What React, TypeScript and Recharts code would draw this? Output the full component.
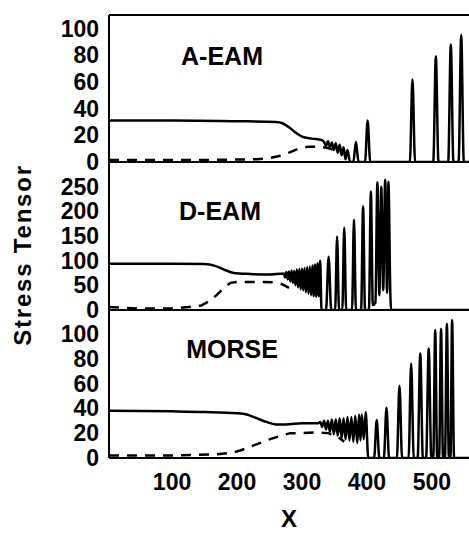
import { LineChart, Line, XAxis, YAxis, Label } from "recharts";

const FONT = '"Liberation Sans", Arial, Helvetica, sans-serif';

const X_DOMAIN = [3, 557];
const X_TICKS = [100, 200, 300, 400, 500];
const X_MINOR_TICKS = [50, 100, 150, 200, 250, 300, 350, 400, 450, 500, 550];

// A-EAM
const aeamSolidX = [3, 100, 200, 260, 270, 280, 290, 300, 315, 330, 334, 337, 340, 343, 346, 349, 352, 355, 358, 361, 364, 367, 370, 374, 379, 383, 387, 397, 401, 405, 466, 470, 474, 502, 506, 510, 525, 529, 533, 541, 545, 549, 557];
const aeamSolidY = [31, 31, 30.5, 30, 29, 26, 22, 19, 17.5, 16.5, 15, 12, 15.5, 11, 14.5, 9, 14, 7, 13, 5, 11, 2, 9, 0, 0, 15, 0, 0, 31, 0, 0, 62, 0, 0, 79, 0, 0, 88, 0, 0, 95, 0, 0];
const aeamDashX = [3, 150, 230, 250, 265, 280, 295, 310, 325, 340, 350];
const aeamDashY = [1.5, 1.5, 2, 3, 4.5, 7, 10, 11.5, 11.5, 10.5, 9];

// D-EAM
const deamSolidX = [3, 100, 150, 165, 180, 195, 220, 250, 272, 274, 276, 278, 280, 282, 284, 286, 288, 290, 292, 294, 296, 298, 300, 302, 304, 306, 308, 310, 312, 314, 316, 318, 320, 322, 324, 326, 328, 330, 337, 341, 345, 351, 354, 357, 362, 365, 368, 377, 380, 383, 391, 394, 397, 403, 406, 409, 413, 416, 419, 422, 425, 428, 431, 433, 436, 437, 557];
const deamSolidY = [94, 94, 93, 90, 82, 75, 73, 72, 74, 66, 77, 62, 78, 58, 80, 55, 79, 50, 82, 46, 83, 42, 84, 40, 85, 36, 87, 33, 88, 30, 90, 28, 92, 27, 95, 28, 100, 0, 0, 108, 0, 0, 149, 0, 0, 167, 0, 0, 183, 0, 0, 210, 0, 0, 240, 10, 15, 259, 30, 250, 40, 264, 35, 260, 30, 0, 0];
const deamDashX = [3, 50, 100, 125, 145, 160, 170, 180, 190, 200, 240, 255, 270, 280];
const deamDashY = [6, 3, 3, 6, 9, 20, 32, 45, 55, 57, 57, 56, 52, 45];

// MORSE
const morseSolidX = [3, 100, 150, 200, 215, 230, 245, 260, 275, 300, 325, 328, 331, 334, 337, 340, 343, 346, 349, 352, 355, 358, 361, 364, 367, 370, 373, 376, 379, 382, 385, 388, 390, 392, 395, 398, 402, 411, 415, 419, 426, 430, 434, 446, 450, 454, 464, 468, 472, 478, 482, 486, 491, 495, 499, 502, 505, 508, 511, 514, 517, 520, 523, 526, 528.5, 531, 534, 557];
const morseSolidY = [38, 37.5, 37, 36, 35, 32, 29, 27, 27, 28, 28, 29, 25, 30, 23, 30, 21, 31, 19, 31, 18, 32, 16, 32, 15, 33, 14, 33, 13, 34, 12, 35, 14, 35, 15, 37, 0, 0, 30.5, 0, 0, 40.5, 0, 0, 58, 0, 0, 76, 0, 0, 84, 0, 0, 88, 0, 0, 103, 0, 0, 104, 0, 0, 108, 0, 0, 111, 0, 0];
const morseDashX = [3, 100, 170, 190, 205, 220, 235, 250, 265, 282, 300, 320, 340, 355, 365];
const morseDashY = [2, 2, 3, 4, 6, 9, 12, 15, 17.5, 20, 20, 20.5, 20, 17, 13];

const TICKS_100 = [0, 20, 40, 60, 80, 100];
const TICKS_250 = [0, 50, 100, 150, 200, 250];

const zip = (xs: number[], ys: number[]) => xs.map((x, i) => ({ x, y: ys[i] }));

const tickFont = { fontFamily: FONT, fontWeight: 700, fontSize: 23, fill: "#000" };
const frame = { stroke: "#000", strokeWidth: 2 };

type PanelProps = {
  top: number;
  height: number;
  marginTop: number;
  marginBottom: number;
  yMax: number;
  yTicks: number[];
  solid: { x: number; y: number }[];
  dashed: { x: number; y: number }[];
  bottomTicks: number[];
  withTop?: boolean;
  withLabels?: boolean;
};

function Panel({ top, height, marginTop, marginBottom, yMax, yTicks, solid, dashed, bottomTicks, withTop, withLabels }: PanelProps) {
  return (
    <div style={{ position: "absolute", left: 0, top }}>
      <LineChart
        width={469}
        height={height}
        margin={{ top: marginTop, right: 0, bottom: marginBottom, left: 60 }}
        style={{ overflow: "visible" }}
      >
        {withTop && (
          <XAxis
            xAxisId="top"
            orientation="top"
            mirror
            type="number"
            domain={X_DOMAIN}
            allowDataOverflow
            ticks={X_TICKS}
            tick={false}
            tickSize={6}
            axisLine={frame}
            tickLine={frame}
          />
        )}
        <XAxis
          dataKey="x"
          type="number"
          domain={X_DOMAIN}
          allowDataOverflow
          ticks={X_TICKS}
          hide={!withLabels}
          height={70}
          axisLine={false}
          tickLine={false}
          tickSize={0}
          tickMargin={16}
          tick={tickFont}
        >
          {withLabels && (
            <Label
              value="X"
              position="insideBottom"
              offset={1}
              style={{ fontFamily: FONT, fontWeight: 700, fontSize: 24, fill: "#000" }}
            />
          )}
        </XAxis>
        <XAxis
          xAxisId="inner"
          mirror
          type="number"
          domain={X_DOMAIN}
          allowDataOverflow
          ticks={bottomTicks}
          tick={false}
          tickSize={5}
          axisLine={frame}
          tickLine={frame}
        />
        <YAxis
          type="number"
          domain={[0, yMax]}
          allowDataOverflow
          ticks={yTicks}
          width={49}
          axisLine={frame}
          tickLine={false}
          tickSize={0}
          tickMargin={10}
          tick={tickFont}
          interval={0}
        />
        <YAxis
          yAxisId="inner"
          mirror
          type="number"
          domain={[0, yMax]}
          allowDataOverflow
          ticks={yTicks}
          tick={false}
          tickSize={6}
          axisLine={false}
          tickLine={frame}
        />
        <Line
          data={dashed}
          dataKey="y"
          type="linear"
          stroke="#000"
          strokeWidth={2.5}
          strokeDasharray="10 8"
          dot={false}
          isAnimationActive={false}
        />
        <Line
          data={solid}
          dataKey="y"
          type="monotone"
          stroke="#000"
          strokeWidth={2.5}
          dot={false}
          isAnimationActive={false}
        />
      </LineChart>
    </div>
  );
}

const panelLabel = (text: string, cx: number, cy: number) => (
  <div
    style={{
      position: "absolute",
      left: cx,
      top: cy,
      transform: "translate(-50%, -50%)",
      fontFamily: FONT,
      fontWeight: 700,
      fontSize: 25,
      lineHeight: 1,
      whiteSpace: "nowrap",
      color: "#000",
    }}
  >
    {text}
  </div>
);

export default function App() {
  return (
    <div style={{ position: "absolute", left: 0, top: 0, width: 469, height: 533, background: "#fff", overflow: "hidden" }}>
      <Panel
        top={0}
        height={182}
        marginTop={15}
        marginBottom={20}
        yMax={110}
        yTicks={TICKS_100}
        solid={zip(aeamSolidX, aeamSolidY)}
        dashed={zip(aeamDashX, aeamDashY)}
        bottomTicks={X_TICKS}
        withTop
      />
      <Panel
        top={150}
        height={180}
        marginTop={12}
        marginBottom={20}
        yMax={300}
        yTicks={TICKS_250}
        solid={zip(deamSolidX, deamSolidY)}
        dashed={zip(deamDashX, deamDashY)}
        bottomTicks={X_TICKS}
      />
      <Panel
        top={300}
        height={233}
        marginTop={10}
        marginBottom={5}
        yMax={119}
        yTicks={TICKS_100}
        solid={zip(morseSolidX, morseSolidY)}
        dashed={zip(morseDashX, morseDashY)}
        bottomTicks={X_MINOR_TICKS}
        withLabels
      />
      {panelLabel("A-EAM", 222, 56)}
      {panelLabel("D-EAM", 220, 211)}
      {panelLabel("MORSE", 232, 349)}
      <div
        style={{
          position: "absolute",
          left: 23,
          top: 255,
          transform: "translate(-50%, -50%) rotate(-90deg)",
          fontFamily: FONT,
          fontWeight: 700,
          fontSize: 24,
          lineHeight: 1,
          whiteSpace: "nowrap",
          letterSpacing: 1.8,
        }}
      >
        Stress Tensor
      </div>
    </div>
  );
}
